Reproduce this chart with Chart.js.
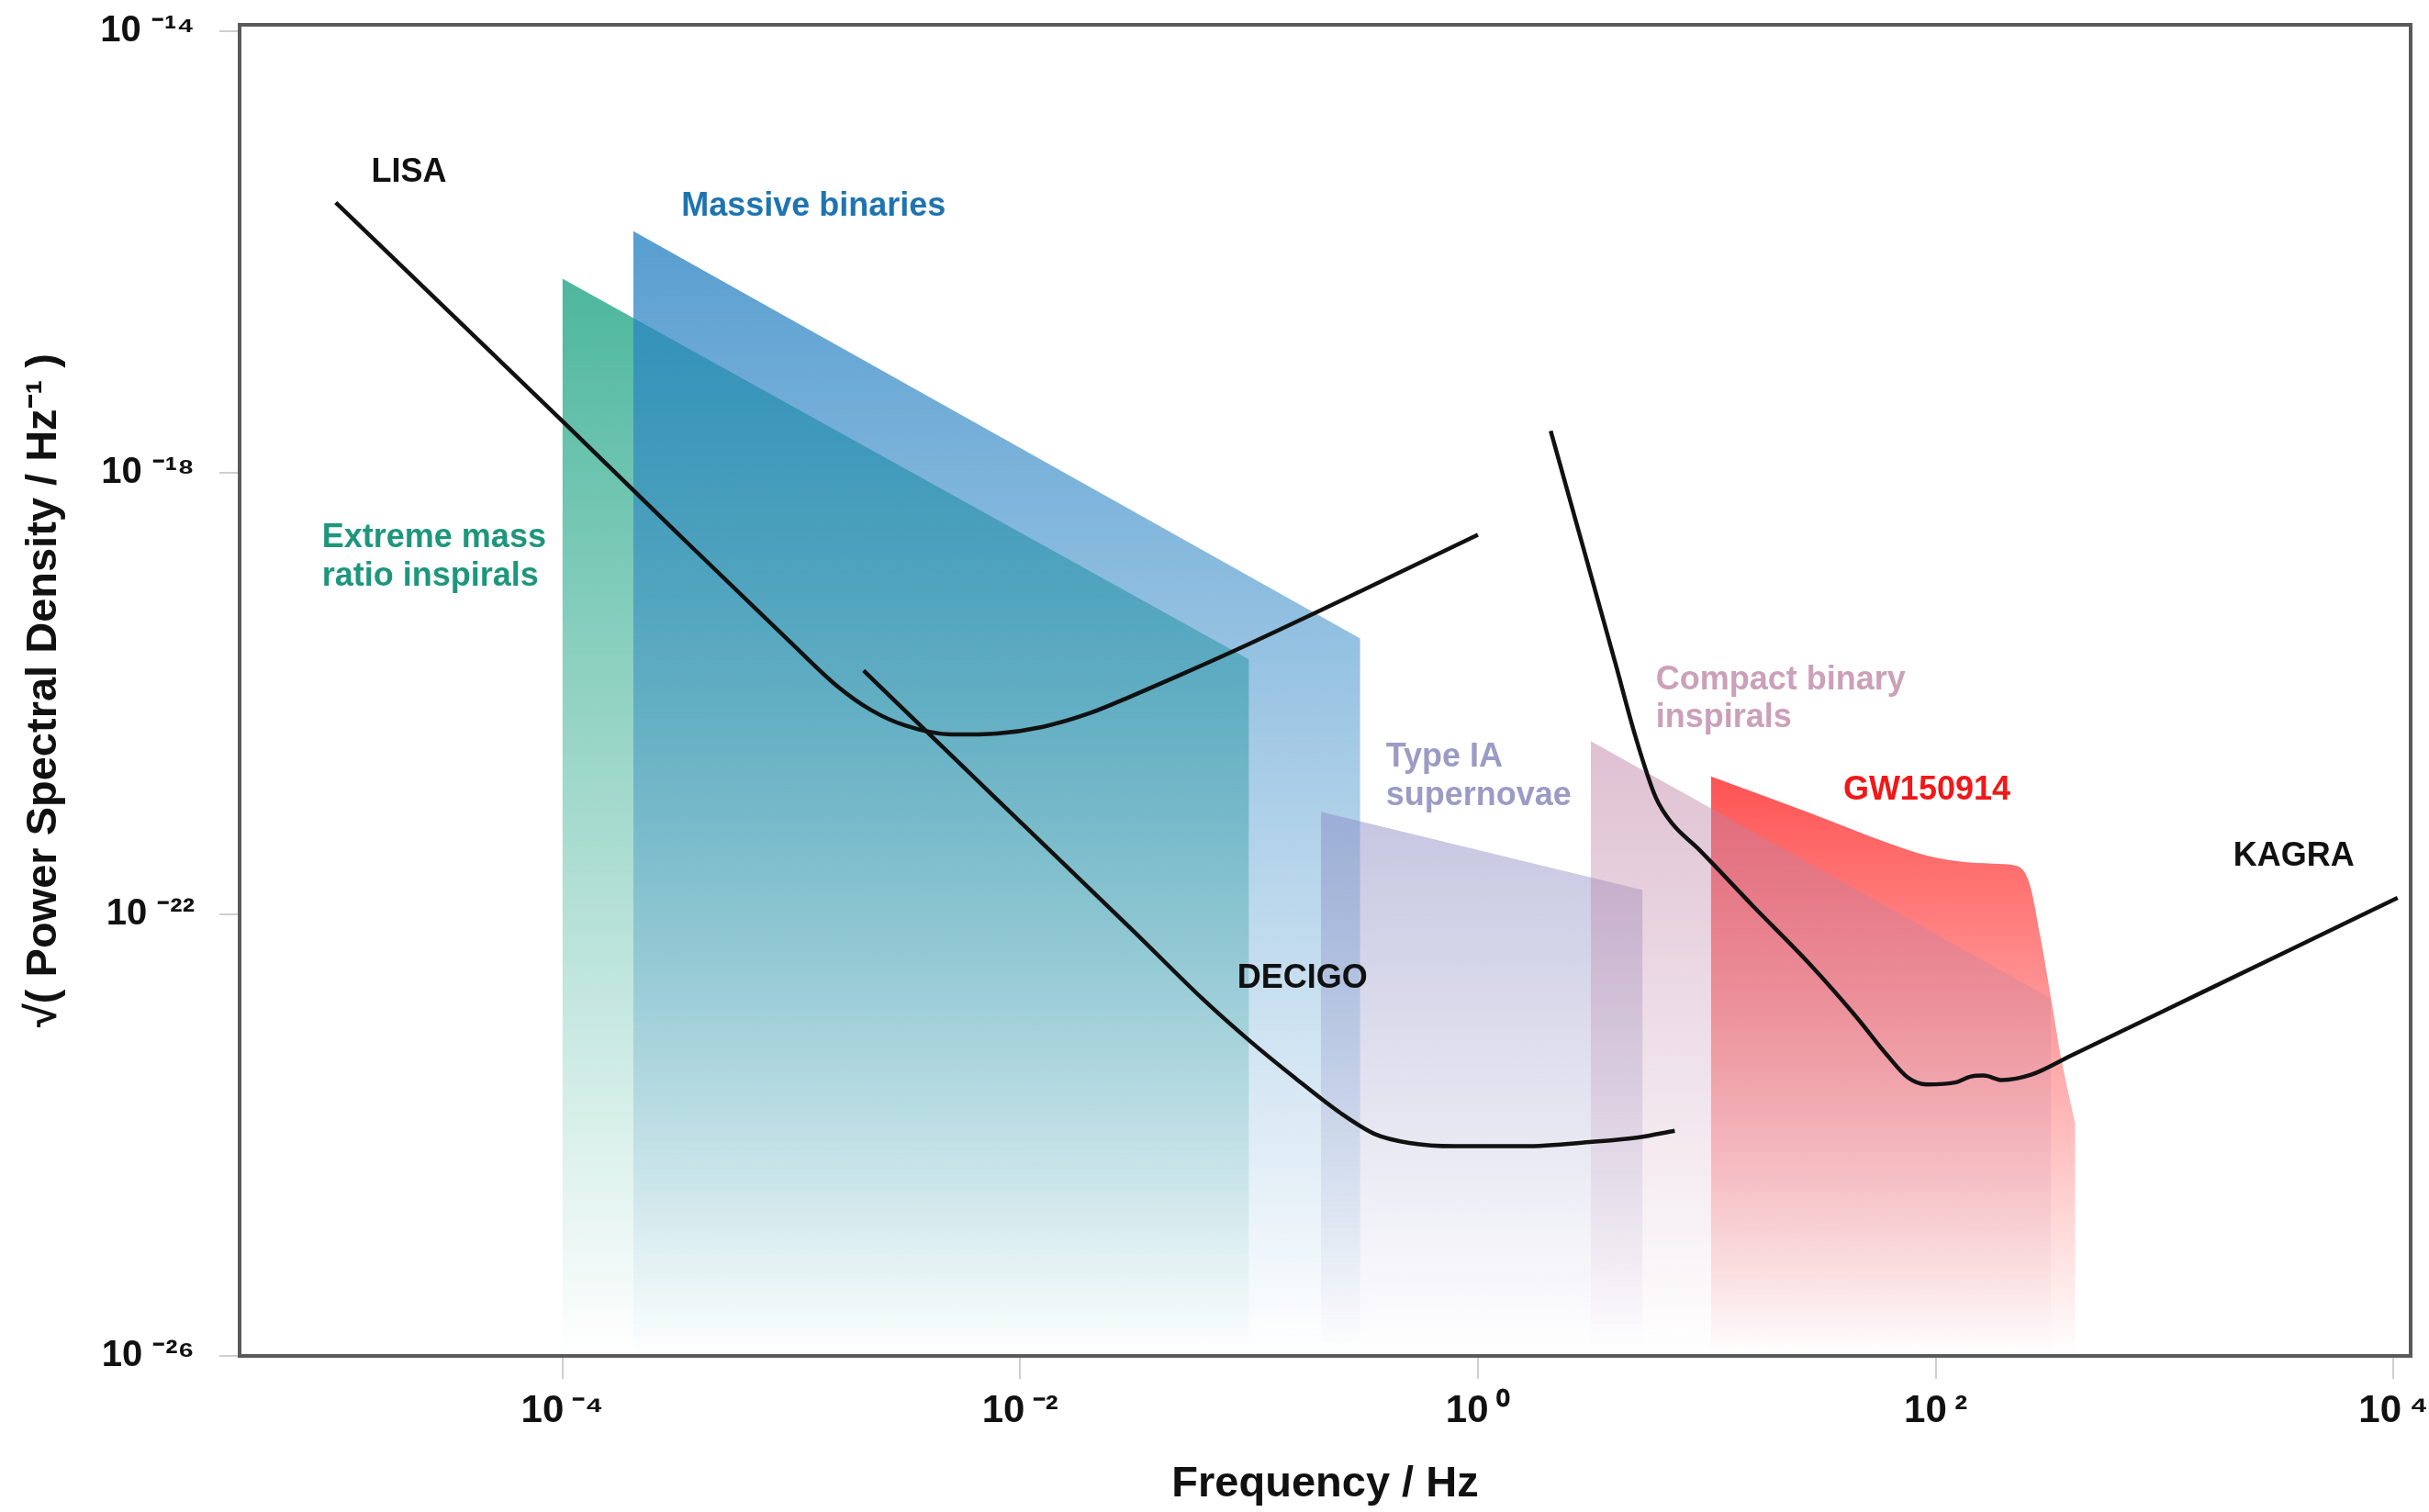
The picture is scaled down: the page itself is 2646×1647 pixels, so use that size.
<!DOCTYPE html>
<html>
<head>
<meta charset="utf-8">
<script src="https://cdn.jsdelivr.net/npm/chart.js@4.4.1/dist/chart.umd.min.js"></script>
<style>
html,body{margin:0;padding:0;background:#ffffff;}
canvas{display:block;}
</style>
</head>
<body>
<canvas id="c" width="2646" height="1647"></canvas>
<script>
// All values below are log10 of frequency (Hz) and log10 of sqrt(PSD) (Hz^-1/2).
const xTicks = [1e-4, 1e-2, 1, 1e2, 1e4];
const yTicks = [1e-26, 1e-22, 1e-18, 1e-14];

// Detector sensitivity curves
const lisaLogF = [-4.99, -4.0, -3.5, -3.0, -2.8, -2.65, -2.5, -2.3, -2.1, -1.9, -1.7, -1.5, -1.3, -1.0, -0.5, 0.0];
const lisaLogH = [-15.55, -17.53, -18.54, -19.54, -19.93, -20.15, -20.29, -20.37, -20.36, -20.30, -20.18, -20.01, -19.83, -19.55, -19.06, -18.56];

const decigoLogF = [-2.684, -2.3, -2.0, -1.5, -1.2, -1.0, -0.8, -0.6, -0.45, -0.3, -0.1, 0.2, 0.5, 0.7, 0.86];
const decigoLogH = [-19.79, -20.56, -21.16, -22.16, -22.77, -23.14, -23.48, -23.80, -23.99, -24.07, -24.10, -24.10, -24.06, -24.02, -23.96];

const kagraLogF = [0.318, 0.45, 0.6, 0.69, 0.777, 0.85, 0.96, 1.2, 1.45, 1.65, 1.79, 1.88, 1.96, 2.09, 2.15, 2.21, 2.29, 2.42, 2.59, 3.0, 3.5, 4.018];
const kagraLogH = [-17.62, -18.60, -19.72, -20.40, -20.94, -21.18, -21.40, -21.92, -22.45, -22.92, -23.28, -23.48, -23.54, -23.52, -23.47, -23.46, -23.50, -23.45, -23.28, -22.87, -22.37, -21.85];

// Source regions (upper edges; filled down to the axis)
const emriLogF = [-4.0, -1.0];
const emriLogH = [-16.24, -19.69];

const massiveLogF = [-3.69, -0.514];
const massiveLogH = [-15.81, -19.50];

const snLogF = [-0.686, 0.72];
const snLogH = [-21.07, -21.78];

const compactLogF = [0.493, 2.504];
const compactLogH = [-20.43, -22.76];

const gwLogF = [1.018, 1.45, 1.80, 1.95, 2.10, 2.25, 2.354, 2.41, 2.457, 2.504, 2.549, 2.61];
const gwLogH = [-20.75, -21.08, -21.36, -21.46, -21.52, -21.54, -21.56, -21.72, -22.20, -22.76, -23.31, -23.90];

// Annotation labels
const labelTexts = ['LISA', 'Massive binaries', 'Extreme mass', 'ratio inspirals', 'DECIGO', 'Type IA', 'supernovae', 'Compact binary', 'inspirals', 'GW150914', 'KAGRA'];
const labelLogF  = [-4.834, -3.48, -5.05, -5.05, -1.052, -0.402, -0.402, 0.777, 0.777, 1.596, 3.30];
const labelLogH  = [-15.28, -15.59, -18.59, -18.94, -22.58, -20.58, -20.93, -19.88, -20.22, -20.88, -21.48];
const labelColors = ['#111111', '#1f74b0', '#1e967d', '#1e967d', '#111111', '#9b9bc6', '#9b9bc6', '#cba0b8', '#cba0b8', '#f01818', '#111111'];

const FONT = "'Liberation Sans', Arial, Helvetica, sans-serif";
const pow10 = v => Math.pow(10, v);
const pts = (lf, lh) => lf.map((f, i) => ({ x: pow10(f), y: pow10(lh[i]) }));

const SUP = { '-': '\u207B', '0': '\u2070', '1': '\u00B9', '2': '\u00B2', '3': '\u00B3', '4': '\u2074', '5': '\u2075', '6': '\u2076', '7': '\u2077', '8': '\u2078', '9': '\u2079' };
const sup = n => String(n).split('').map(c => SUP[c] || c).join('');

function fade(rgb, alpha) {
  return function (ctx) {
    const chart = ctx.chart;
    const area = chart.chartArea;
    const ys = chart.scales && chart.scales.y;
    if (!area || !ys || !ctx.dataset) return `rgba(${rgb},${alpha})`;
    let top = Infinity;
    ctx.dataset.data.forEach(p => {
      const py = ys.getPixelForValue(p.y);
      if (py < top) top = py;
    });
    if (!isFinite(top)) return `rgba(${rgb},${alpha})`;
    const g = chart.ctx.createLinearGradient(0, top, 0, area.bottom);
    g.addColorStop(0, `rgba(${rgb},${alpha})`);
    g.addColorStop(1, `rgba(${rgb},0)`);
    return g;
  };
}

function region(label, lf, lh, rgb, alpha, smooth) {
  return {
    label: label,
    data: pts(lf, lh),
    borderWidth: 0,
    borderColor: 'rgba(0,0,0,0)',
    backgroundColor: fade(rgb, alpha),
    fill: 'start',
    pointRadius: 0,
    pointHoverRadius: 0,
    tension: 0,
    cubicInterpolationMode: smooth ? 'monotone' : 'default'
  };
}

function curve(label, lf, lh) {
  return {
    label: label,
    data: pts(lf, lh),
    borderColor: '#111111',
    borderWidth: 4.5,
    fill: false,
    pointRadius: 0,
    pointHoverRadius: 0,
    cubicInterpolationMode: 'monotone'
  };
}

const boxPlugin = {
  id: 'box',
  afterDraw(chart) {
    const { ctx, chartArea: a } = chart;
    ctx.save();
    ctx.strokeStyle = '#5a5a5a';
    ctx.lineWidth = 4;
    ctx.strokeRect(a.left, a.top, a.right - a.left, a.bottom - a.top);
    ctx.restore();
  }
};

const labelPlugin = {
  id: 'labels',
  afterDatasetsDraw(chart) {
    const { ctx } = chart;
    const xs = chart.scales.x, ys = chart.scales.y;
    ctx.save();
    ctx.font = `bold 36px ${FONT}`;
    ctx.textAlign = 'left';
    ctx.textBaseline = 'middle';
    labelTexts.forEach((t, i) => {
      ctx.fillStyle = labelColors[i];
      ctx.fillText(t, xs.getPixelForValue(pow10(labelLogF[i])), ys.getPixelForValue(pow10(labelLogH[i])));
    });
    ctx.restore();
  }
};

new Chart(document.getElementById('c'), {
  type: 'line',
  data: {
    datasets: [
      curve('KAGRA', kagraLogF, kagraLogH),
      curve('DECIGO', decigoLogF, decigoLogH),
      curve('LISA', lisaLogF, lisaLogH),
      region('Compact binary inspirals', compactLogF, compactLogH, '190,130,165', 0.5, false),
      region('GW150914', gwLogF, gwLogH, '255,40,40', 0.8, true),
      region('Type IA supernovae', snLogF, snLogH, '140,140,195', 0.5, false),
      region('Massive binaries', massiveLogF, massiveLogH, '40,130,195', 0.78, false),
      region('Extreme mass ratio inspirals', emriLogF, emriLogH, '45,170,140', 0.85, false)
    ]
  },
  options: {
    responsive: false,
    devicePixelRatio: 1,
    animation: false,
    events: [],
    layout: { padding: { left: 0, top: 27, right: 20, bottom: 0 } },
    plugins: { legend: { display: false }, tooltip: { enabled: false } },
    scales: {
      x: {
        type: 'logarithmic',
        min: pow10(-5.41),
        max: pow10(4.075),
        afterBuildTicks: s => { s.ticks = xTicks.map(v => ({ value: v })); },
        afterFit: s => { s.height = 170; s.paddingLeft = 0; s.paddingRight = 0; },
        grid: { drawOnChartArea: false, drawTicks: true, tickLength: 25, color: '#cfcfcf', lineWidth: 2 },
        border: { display: false },
        ticks: {
          autoSkip: false,
          maxRotation: 0,
          padding: 10,
          color: '#111111',
          font: { family: FONT, size: 42, weight: 'bold' },
          callback: v => '10\u2009' + sup(Math.round(Math.log10(v)))
        },
        title: {
          display: true,
          text: 'Frequency / Hz',
          color: '#111111',
          font: { family: FONT, size: 47, weight: 'bold' },
          padding: { top: 0, bottom: 2 }
        }
      },
      y: {
        type: 'logarithmic',
        min: pow10(-26),
        max: pow10(-13.94),
        afterBuildTicks: s => { s.ticks = yTicks.map(v => ({ value: v })); },
        afterFit: s => { s.width = 261; s.paddingTop = 0; s.paddingBottom = 0; },
        grid: { drawOnChartArea: false, drawTicks: true, tickLength: 22, color: '#cfcfcf', lineWidth: 2 },
        border: { display: false },
        ticks: {
          autoSkip: false,
          padding: 27,
          color: '#111111',
          font: { family: FONT, size: 40, weight: 'bold' },
          callback: v => '10 ' + sup(Math.round(Math.log10(v)))
        },
        title: {
          display: true,
          text: '\u221A( Power Spectral Density / Hz\u207B\u00B9 )',
          color: '#111111',
          font: { family: FONT, size: 47, weight: 'bold' },
          padding: { top: 20, bottom: 0 }
        }
      }
    }
  },
  plugins: [labelPlugin, boxPlugin]
});
</script>
</body>
</html>
